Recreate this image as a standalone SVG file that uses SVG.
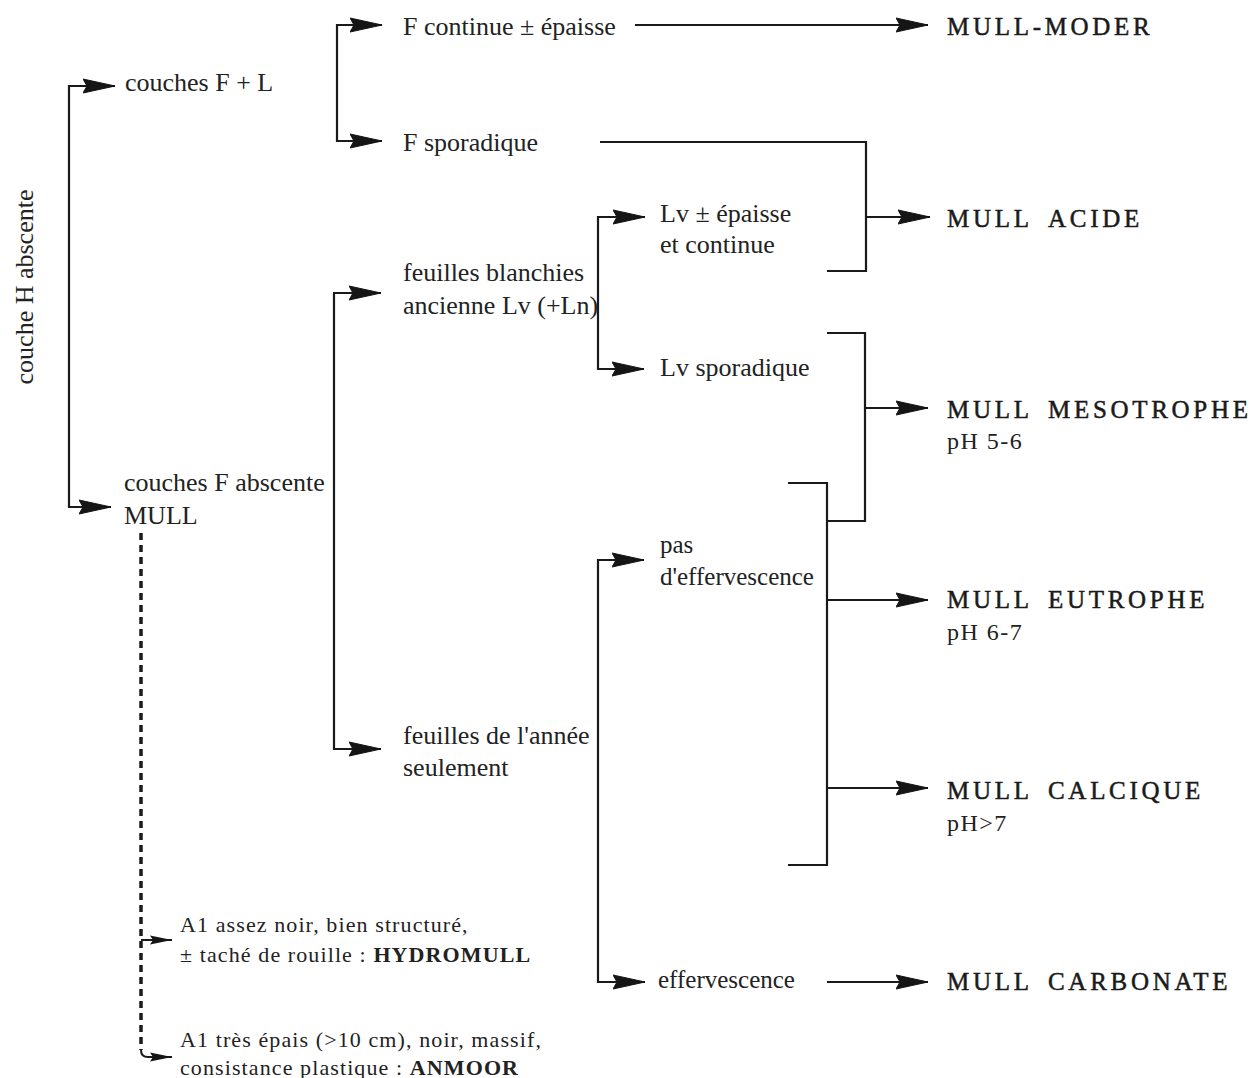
<svg xmlns="http://www.w3.org/2000/svg" width="1253" height="1078" viewBox="0 0 1253 1078">
<style>
.t{font-family:"Liberation Serif","Times New Roman",serif;font-size:26px;fill:#222}
.m{font-family:"Liberation Serif","Times New Roman",serif;font-size:25px;fill:#1a1a1a;letter-spacing:3.7px;stroke:#1a1a1a;stroke-width:0.5}
.p{font-family:"Liberation Serif","Times New Roman",serif;font-size:24px;fill:#222;letter-spacing:1.5px}
.s{font-family:"Liberation Serif","Times New Roman",serif;font-size:22px;fill:#222;letter-spacing:1.1px}
.b{font-weight:bold}
.ln{fill:none;stroke:#1a1a1a;stroke-width:2.2}
.ar{stroke:#1a1a1a;stroke-width:2.2;marker-end:url(#ah)}
.sa{fill:none;stroke:#1a1a1a;stroke-width:2;marker-end:url(#sh)}
.dash{fill:none;stroke:#1a1a1a;stroke-width:3.5;stroke-dasharray:7 5}
.head{fill:#151515;stroke:#151515;stroke-width:1;stroke-linejoin:round}
</style>
<defs>
<marker id="ah" markerUnits="userSpaceOnUse" viewBox="0 0 34 16" markerWidth="34" markerHeight="16" refX="32" refY="8" orient="auto">
<path class="head" d="M0,1 L32,8 L0,15 L4,8 Z" style="fill:#151515"/>
</marker>
<marker id="sh" markerUnits="userSpaceOnUse" viewBox="0 0 24 10" markerWidth="24" markerHeight="10" refX="22" refY="5" orient="auto">
<path class="head" d="M0,0.5 L22,5 L0,9.5 L3,5 Z" style="fill:#151515;stroke:none"/>
</marker>
</defs>
<rect width="1253" height="1078" fill="#fff"/>

<g id="connectors">
<line class="ar" x1="69" y1="86" x2="115" y2="86"/>
<path class="ln" d="M69,85 L69,508"/>
<line class="ar" x1="69" y1="507" x2="111" y2="507"/>
<line class="ar" x1="337" y1="25" x2="382" y2="25"/>
<path class="ln" d="M337,24 L337,142"/>
<line class="ar" x1="337" y1="141" x2="382" y2="141"/>
<line class="ar" x1="334" y1="293" x2="381" y2="293"/>
<path class="ln" d="M334,292 L334,750"/>
<line class="ar" x1="334" y1="749" x2="381" y2="749"/>
<line class="ar" x1="598" y1="217" x2="645" y2="217"/>
<path class="ln" d="M598,216 L598,370"/>
<line class="ar" x1="598" y1="369" x2="644" y2="369"/>
<line class="ar" x1="598" y1="560" x2="644" y2="560"/>
<path class="ln" d="M598,559 L598,983"/>
<line class="ar" x1="598" y1="982" x2="645" y2="982"/>
<line class="ar" x1="635" y1="25" x2="928" y2="25"/>
<path class="ln" d="M600,142 L866,142 L866,271 L827,271"/>
<line class="ar" x1="866" y1="217" x2="930" y2="217"/>
<path class="ln" d="M827,333 L865,333 L865,521 L827,521"/>
<line class="ar" x1="865" y1="408" x2="928" y2="408"/>
<path class="ln" d="M788,483 L827,483 L827,865 L788,865"/>
<line class="ar" x1="827" y1="600" x2="928" y2="600"/>
<line class="ar" x1="827" y1="788" x2="928" y2="788"/>
<line class="ar" x1="827" y1="982" x2="928" y2="982"/>
<path class="dash" d="M141,533 L141,1050"/>
<path class="sa" d="M141,940 L172,940"/>
<path class="sa" d="M141,1050 Q141,1057 148,1057 L172,1057"/>
</g>

<g id="root"><text class="t" transform="translate(33,287) rotate(-90)" text-anchor="middle">couche H abscente</text></g>
<g id="couches-FL"><text class="t" x="125" y="91">couches F + L</text></g>
<g id="couches-F-abs"><text class="t" x="124" y="491">couches F abscente</text><text class="t" x="124" y="524">MULL</text></g>
<g id="F-continue"><text class="t" x="403" y="35">F continue ± épaisse</text></g>
<g id="F-sporadique"><text class="t" x="403" y="151">F sporadique</text></g>
<g id="feuilles-blanchies"><text class="t" x="403" y="281">feuilles blanchies</text><text class="t" x="403" y="314">ancienne Lv (+Ln)</text></g>
<g id="feuilles-annee"><text class="t" x="403" y="744">feuilles de l'année</text><text class="t" x="403" y="776">seulement</text></g>
<g id="Lv-epaisse"><text class="t" x="660" y="222">Lv ± épaisse</text><text class="t" x="660" y="253">et continue</text></g>
<g id="Lv-sporadique"><text class="t" x="660" y="376">Lv sporadique</text></g>
<g id="pas-effervescence"><text class="t" x="660" y="553" style="font-size:25px">pas</text><text class="t" x="660" y="585" style="font-size:25px">d'effervescence</text></g>
<g id="effervescence"><text class="t" x="658" y="988" style="font-size:25px">effervescence</text></g>

<g id="mull-moder"><text class="m" x="947" y="35">MULL-MODER</text></g>
<g id="mull-acide"><text class="m" x="947" y="227">MULL<tspan x="1048">ACIDE</tspan></text></g>
<g id="mull-mesotrophe"><text class="m" x="947" y="418">MULL<tspan x="1048">MESOTROPHE</tspan></text><text class="p" x="947" y="449">pH 5-6</text></g>
<g id="mull-eutrophe"><text class="m" x="947" y="608">MULL<tspan x="1048">EUTROPHE</tspan></text><text class="p" x="947" y="640">pH 6-7</text></g>
<g id="mull-calcique"><text class="m" x="947" y="799">MULL<tspan x="1048">CALCIQUE</tspan></text><text class="p" x="947" y="831">pH&gt;7</text></g>
<g id="mull-carbonate"><text class="m" x="947" y="990">MULL<tspan x="1048">CARBONATE</tspan></text></g>

<g id="hydromull"><text class="s" x="180" y="932">A1 assez noir, bien structuré,</text><text class="s" x="180" y="962">± taché de rouille : <tspan class="b">HYDROMULL</tspan></text></g>
<g id="anmoor"><text class="s" x="180" y="1047">A1 très épais (&gt;10 cm), noir, massif,</text><text class="s" x="180" y="1075">consistance plastique : <tspan class="b">ANMOOR</tspan></text></g>
</svg>
